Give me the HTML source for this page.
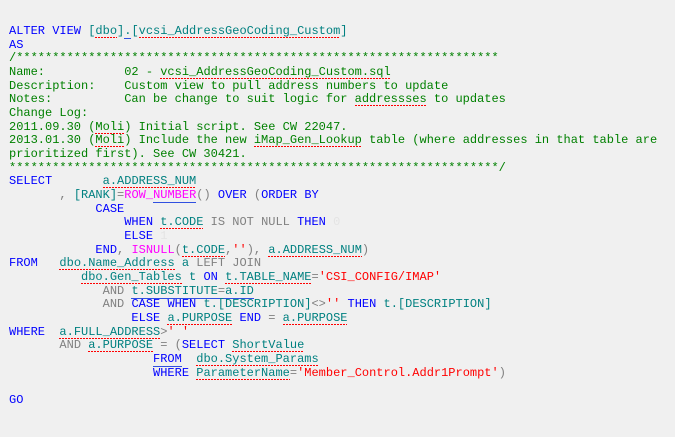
<!DOCTYPE html>
<html><head><meta charset="utf-8"><style>
html,body{margin:0;padding:0;background:#f0f0f0;width:675px;height:437px;overflow:hidden}
pre{position:absolute;left:9px;top:25px;margin:0;font-family:"Liberation Mono",monospace;font-size:12px;line-height:13.67px;color:#000}
.k{color:#0000ff}.t{color:#008080}.g{color:#808080}.c{color:#008000}.r{color:#ff0000}.m{color:#ff00ff}.w{color:#e4e4e4}
.s{background:repeating-linear-gradient(90deg,#f00 0 2px,transparent 2px 3px) left bottom/100% 1px no-repeat}
.u{border-bottom:1px solid #3050e0}
</style></head><body>
<pre><span class="k">ALTER VIEW</span> <span class="t">[<span class="s">dbo</span>]<span class="u">.</span>[<span class="s">vcsi_AddressGeoCoding_Custom</span>]</span>
<span class="k">AS</span>
<span class="c">/*******************************************************************
Name:           02 - <span class="s">vcsi_AddressGeoCoding_Custom.sql</span>
Description:    Custom view to pull address numbers to update
Notes:          Can be change to suit logic for <span class="s">addressses</span> to updates
Change Log:
2011.09.30 (<span class="s">Moli</span>) Initial script. See CW 22047.
2013.01.30 (<span class="s">Moli</span>) Include the new <span class="s">iMap_Gen_Lookup</span> table (where addresses in that table are
prioritized first). See CW 30421.
********************************************************************/</span>
<span class="k">SELECT</span>       <span class="t s">a.ADDRESS_NUM</span>
       <span class="g">,</span> <span class="t">[RANK]</span><span class="g">=</span><span class="m">ROW_<span class="u">NUMBER</span></span><span class="g">()</span> <span class="k">OVER</span> <span class="g">(</span><span class="k">ORDER BY</span>
            <span class="k">CASE</span>
                <span class="k">WHEN</span> <span class="t s">t.CODE</span> <span class="g">IS NOT NULL</span> <span class="k">THEN</span> <span class="w">0</span>
                <span class="k">ELSE</span> <span class="w">1</span>
            <span class="k">END</span><span class="g">,</span> <span class="m">ISNULL</span><span class="g">(</span><span class="t s">t.CODE</span><span class="g">,</span><span class="r">''</span><span class="g">),</span> <span class="t s">a.ADDRESS_NUM</span><span class="g">)</span>
<span class="k">FROM</span>   <span class="t s">dbo.Name_Address</span> <span class="t">a</span> <span class="g">LEFT JOIN</span>
          <span class="t s">dbo.Gen_Tables</span> <span class="t">t</span> <span class="k">ON</span> <span class="t s">t.TABLE_NAME</span><span class="g">=</span><span class="r">'CSI_CONFIG/IMAP'</span>
             <span class="g">AND</span> <span class="t u">t.SUBSTITUTE<span class="g">=</span>a.ID</span>
             <span class="g">AND</span> <span class="k">CASE WHEN</span> <span class="t">t.[DESCRIPTION]</span><span class="g">&lt;&gt;</span><span class="r">''</span> <span class="k">THEN</span> <span class="t">t.[DESCRIPTION]</span>
                 <span class="k">ELSE</span> <span class="t s">a.PURPOSE</span> <span class="k">END</span> <span class="g">=</span> <span class="t s">a.PURPOSE</span>
<span class="k">WHERE</span>  <span class="t s">a.FULL_ADDRESS</span><span class="g">&gt;</span><span class="r">' '</span>
       <span class="g">AND</span> <span class="t s">a.PURPOSE</span> <span class="g">=</span> <span class="g">(</span><span class="k">SELECT</span> <span class="t s">ShortValue</span>
                    <span class="k u">FROM</span>  <span class="t s">dbo.System_Params</span>
                    <span class="k">WHERE</span> <span class="t s">ParameterName</span><span class="g">=</span><span class="r">'Member_Control.Addr1Prompt'</span><span class="g">)</span>

<span class="k">GO</span></pre>
</body></html>
